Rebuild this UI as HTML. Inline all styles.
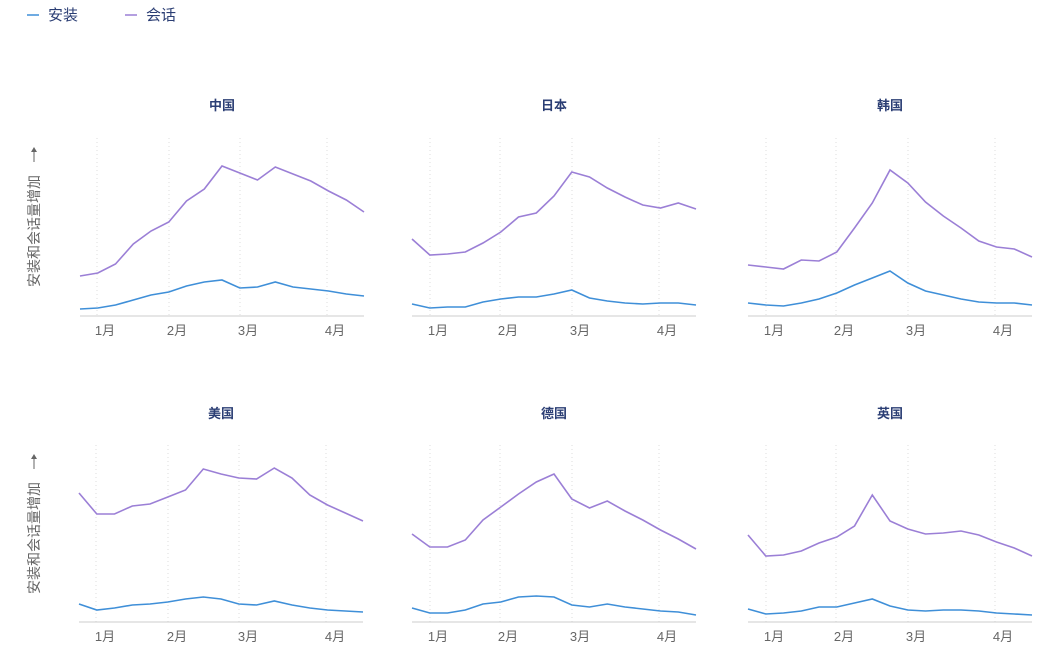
<!DOCTYPE html>
<html><head><meta charset="utf-8"><style>
body{margin:0;background:#fff;width:1061px;height:661px;overflow:hidden}
svg{display:block;font-family:"Liberation Sans","Noto Sans CJK SC",sans-serif}
.t{font-size:13px;font-weight:bold;fill:#2b3e74;text-anchor:middle}
.m{font-size:13px;fill:#666;text-anchor:middle}
.g{stroke:#ddd;stroke-dasharray:1 3;stroke-width:1}
.b{stroke:#ccc;stroke-width:1}
.p{fill:none;stroke:#9b7fd6;stroke-width:1.6}
.s{fill:none;stroke:#3f8fd8;stroke-width:1.6}
.y{font-size:14px;fill:#666;text-anchor:middle}
</style></head><body>
<svg width="1061" height="661" viewBox="0 0 1061 661">
<line x1="27" y1="15" x2="39" y2="15" stroke="#3f8fd8" stroke-width="1.5"/>
<text x="48" y="20" font-size="15" fill="#2b3e74">安装</text>
<line x1="125" y1="15" x2="137" y2="15" stroke="#9b7fd6" stroke-width="1.5"/>
<text x="146" y="20" font-size="15" fill="#2b3e74">会话</text>

<g transform="translate(39,231) rotate(-90)"><text class="y" x="0" y="0">安装和会话量增加</text></g>
<line x1="34" y1="162" x2="34" y2="150" stroke="#666" stroke-width="1"/><path d="M31,152 L34,147 L37,152 Z" fill="#666"/>
<g transform="translate(39,538) rotate(-90)"><text class="y" x="0" y="0">安装和会话量增加</text></g>
<line x1="34" y1="469" x2="34" y2="457" stroke="#666" stroke-width="1"/><path d="M31,459 L34,454 L37,459 Z" fill="#666"/>

<!-- China -->
<g transform="translate(80,0)">
<text class="t" x="142" y="110">中国</text>
<line class="g" x1="17" y1="138" x2="17" y2="316"/><line class="g" x1="89" y1="138" x2="89" y2="316"/><line class="g" x1="160" y1="138" x2="160" y2="316"/><line class="g" x1="247" y1="138" x2="247" y2="316"/>
<line class="b" x1="0" y1="316" x2="284" y2="316"/>
<text class="m" x="25" y="335">1月</text><text class="m" x="97" y="335">2月</text><text class="m" x="168" y="335">3月</text><text class="m" x="255" y="335">4月</text>
<polyline class="p" points="0,276 17.8,273 35.5,264 53.3,244 71,231 88.8,222 106.5,201 124.3,189 142,166 159.8,173 177.5,180 195.3,167 213,174 230.8,181 248.5,191 266.3,200 284,212"/>
<polyline class="s" points="0,309 17.8,308 35.5,305 53.3,300 71,295 88.8,292 106.5,286 124.3,282 142,280 159.8,288 177.5,287 195.3,282 213,287 230.8,289 248.5,291 266.3,294 284,296"/>
</g>
<!-- Japan -->
<g transform="translate(412,0)">
<text class="t" x="142" y="110">日本</text>
<line class="g" x1="18" y1="138" x2="18" y2="316"/><line class="g" x1="88" y1="138" x2="88" y2="316"/><line class="g" x1="160" y1="138" x2="160" y2="316"/><line class="g" x1="247" y1="138" x2="247" y2="316"/>
<line class="b" x1="0" y1="316" x2="284" y2="316"/>
<text class="m" x="26" y="335">1月</text><text class="m" x="96" y="335">2月</text><text class="m" x="168" y="335">3月</text><text class="m" x="255" y="335">4月</text>
<polyline class="p" points="0,239 17.8,255 35.5,254 53.3,252 71,243 88.8,232 106.5,217 124.3,213 142,196 159.8,172 177.5,177 195.3,188 213,197 230.8,205 248.5,208 266.3,203 284,209"/>
<polyline class="s" points="0,304 17.8,308 35.5,307 53.3,307 71,302 88.8,299 106.5,297 124.3,297 142,294 159.8,290 177.5,298 195.3,301 213,303 230.8,304 248.5,303 266.3,303 284,305"/>
</g>
<!-- Korea -->
<g transform="translate(748,0)">
<text class="t" x="142" y="110">韩国</text>
<line class="g" x1="18" y1="138" x2="18" y2="316"/><line class="g" x1="88" y1="138" x2="88" y2="316"/><line class="g" x1="160" y1="138" x2="160" y2="316"/><line class="g" x1="247" y1="138" x2="247" y2="316"/>
<line class="b" x1="0" y1="316" x2="284" y2="316"/>
<text class="m" x="26" y="335">1月</text><text class="m" x="96" y="335">2月</text><text class="m" x="168" y="335">3月</text><text class="m" x="255" y="335">4月</text>
<polyline class="p" points="0,265 17.8,267 35.5,269 53.3,260 71,261 88.8,252 106.5,228 124.3,203 142,170 159.8,183 177.5,202 195.3,216 213,228 230.8,241 248.5,247 266.3,249 284,257"/>
<polyline class="s" points="0,303 17.8,305 35.5,306 53.3,303 71,299 88.8,293 106.5,285 124.3,278 142,271 159.8,283 177.5,291 195.3,295 213,299 230.8,302 248.5,303 266.3,303 284,305"/>
</g>
<!-- USA -->
<g transform="translate(79,0)">
<text class="t" x="142" y="418">美国</text>
<line class="g" x1="17" y1="445" x2="17" y2="622"/><line class="g" x1="89" y1="445" x2="89" y2="622"/><line class="g" x1="160" y1="445" x2="160" y2="622"/><line class="g" x1="247" y1="445" x2="247" y2="622"/>
<line class="b" x1="0" y1="622" x2="284" y2="622"/>
<text class="m" x="26" y="641">1月</text><text class="m" x="98" y="641">2月</text><text class="m" x="169" y="641">3月</text><text class="m" x="256" y="641">4月</text>
<polyline class="p" points="0,493 17.8,514 35.5,514 53.3,506 71,504 88.8,497 106.5,490 124.3,469 142,474 159.8,478 177.5,479 195.3,468 213,478 230.8,495 248.5,505 266.3,513 284,521"/>
<polyline class="s" points="0,604 17.8,610 35.5,608 53.3,605 71,604 88.8,602 106.5,599 124.3,597 142,599 159.8,604 177.5,605 195.3,601 213,605 230.8,608 248.5,610 266.3,611 284,612"/>
</g>
<!-- Germany -->
<g transform="translate(412,0)">
<text class="t" x="142" y="418">德国</text>
<line class="g" x1="18" y1="445" x2="18" y2="622"/><line class="g" x1="88" y1="445" x2="88" y2="622"/><line class="g" x1="160" y1="445" x2="160" y2="622"/><line class="g" x1="247" y1="445" x2="247" y2="622"/>
<line class="b" x1="0" y1="622" x2="284" y2="622"/>
<text class="m" x="26" y="641">1月</text><text class="m" x="96" y="641">2月</text><text class="m" x="168" y="641">3月</text><text class="m" x="255" y="641">4月</text>
<polyline class="p" points="0,534 17.8,547 35.5,547 53.3,540 71,520 88.8,507 106.5,494 124.3,482 142,474 159.8,499 177.5,508 195.3,501 213,511 230.8,520 248.5,530 266.3,539 284,549"/>
<polyline class="s" points="0,608 17.8,613 35.5,613 53.3,610 71,604 88.8,602 106.5,597 124.3,596 142,597 159.8,605 177.5,607 195.3,604 213,607 230.8,609 248.5,611 266.3,612 284,615"/>
</g>
<!-- UK -->
<g transform="translate(748,0)">
<text class="t" x="142" y="418">英国</text>
<line class="g" x1="18" y1="445" x2="18" y2="622"/><line class="g" x1="88" y1="445" x2="88" y2="622"/><line class="g" x1="160" y1="445" x2="160" y2="622"/><line class="g" x1="247" y1="445" x2="247" y2="622"/>
<line class="b" x1="0" y1="622" x2="284" y2="622"/>
<text class="m" x="26" y="641">1月</text><text class="m" x="96" y="641">2月</text><text class="m" x="168" y="641">3月</text><text class="m" x="255" y="641">4月</text>
<polyline class="p" points="0,535 17.8,556 35.5,555 53.3,551 71,543 88.8,537 106.5,526 124.3,495 142,521 159.8,529 177.5,534 195.3,533 213,531 230.8,535 248.5,542 266.3,548 284,556"/>
<polyline class="s" points="0,609 17.8,614 35.5,613 53.3,611 71,607 88.8,607 106.5,603 124.3,599 142,606 159.8,610 177.5,611 195.3,610 213,610 230.8,611 248.5,613 266.3,614 284,615"/>
</g>
</svg>
</body></html>
